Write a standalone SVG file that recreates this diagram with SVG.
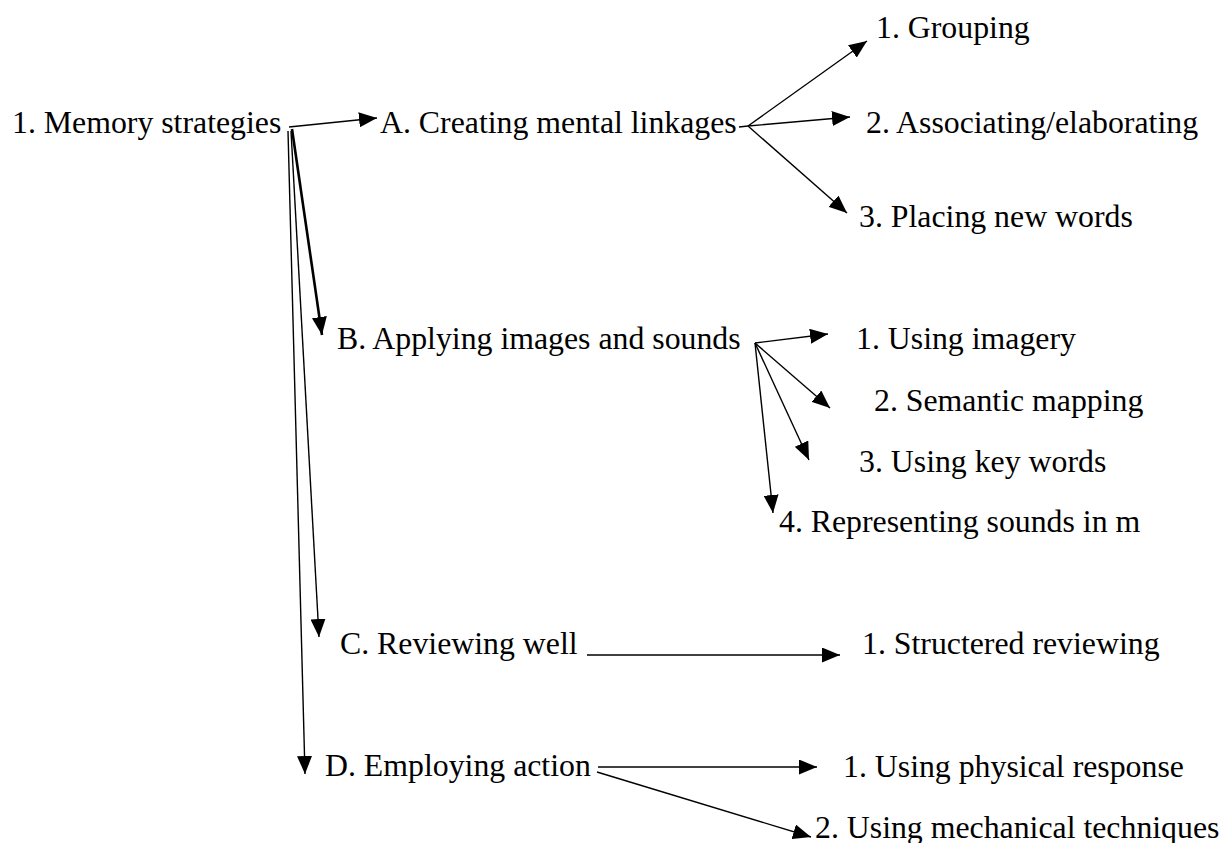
<svg xmlns="http://www.w3.org/2000/svg" width="1231" height="843" viewBox="0 0 1231 843">
<defs>
<marker id="ah" viewBox="0 0 18 15" refX="18" refY="7.5" markerWidth="18" markerHeight="15" orient="auto" markerUnits="userSpaceOnUse">
<path d="M0,0 L18,7.5 L0,15 z" fill="#000"/>
</marker>
</defs>
<style>
text{font-family:"Liberation Serif","Times New Roman",serif;font-size:31.8px;fill:#000}
.c{stroke:#000;stroke-width:1.4;fill:none;marker-end:url(#ah)}
.t{stroke-width:2.6}
.p{stroke:#000;stroke-width:1.4;fill:none}
</style>
<rect width="1231" height="843" fill="#fff"/>
<g id="connectors">
<line class="c" x1="289" y1="127" x2="377" y2="118"/>
<line class="c t" x1="292" y1="129" x2="322" y2="335"/>
<line class="c" x1="291" y1="131" x2="319" y2="637"/>
<line class="c" x1="288" y1="131" x2="305" y2="774"/>
<line class="p" x1="739" y1="127" x2="748" y2="126"/>
<line class="c" x1="748" y1="126" x2="867" y2="41"/>
<line class="c" x1="748" y1="126" x2="850" y2="117"/>
<line class="c" x1="748" y1="126" x2="847" y2="213"/>
<line class="c" x1="755" y1="343" x2="828" y2="334"/>
<line class="c" x1="755" y1="343" x2="830" y2="408"/>
<line class="c" x1="755" y1="343" x2="809" y2="460"/>
<line class="c" x1="755" y1="343" x2="773" y2="513"/>
<line class="c" x1="587" y1="655" x2="840" y2="655"/>
<line class="c" x1="598" y1="767" x2="817" y2="767"/>
<line class="c" x1="597" y1="772" x2="811" y2="837"/>
</g>
<g id="memory"><text x="12" y="133">1. Memory strategies</text></g>
<g id="nodeA"><text x="380" y="133">A. Creating mental linkages</text></g>
<g id="a1"><text x="876" y="38">1. Grouping</text></g>
<g id="a2"><text x="866" y="133">2. Associating/elaborating</text></g>
<g id="a3"><text x="859" y="227">3. Placing new words</text></g>
<g id="nodeB"><text x="337" y="349">B. Applying images and sounds</text></g>
<g id="b1"><text x="856" y="349">1. Using imagery</text></g>
<g id="b2"><text x="874" y="411">2. Semantic mapping</text></g>
<g id="b3"><text x="859" y="472">3. Using key words</text></g>
<g id="b4"><text x="779" y="532">4. Representing sounds in m</text></g>
<g id="nodeC"><text x="340" y="654">C. Reviewing well</text></g>
<g id="c1"><text x="862" y="654">1. Structered reviewing</text></g>
<g id="nodeD"><text x="325" y="776">D. Employing action</text></g>
<g id="d1"><text x="843" y="777">1. Using physical response</text></g>
<g id="d2"><text x="815" y="838">2. Using mechanical techniques</text></g>
</svg>
